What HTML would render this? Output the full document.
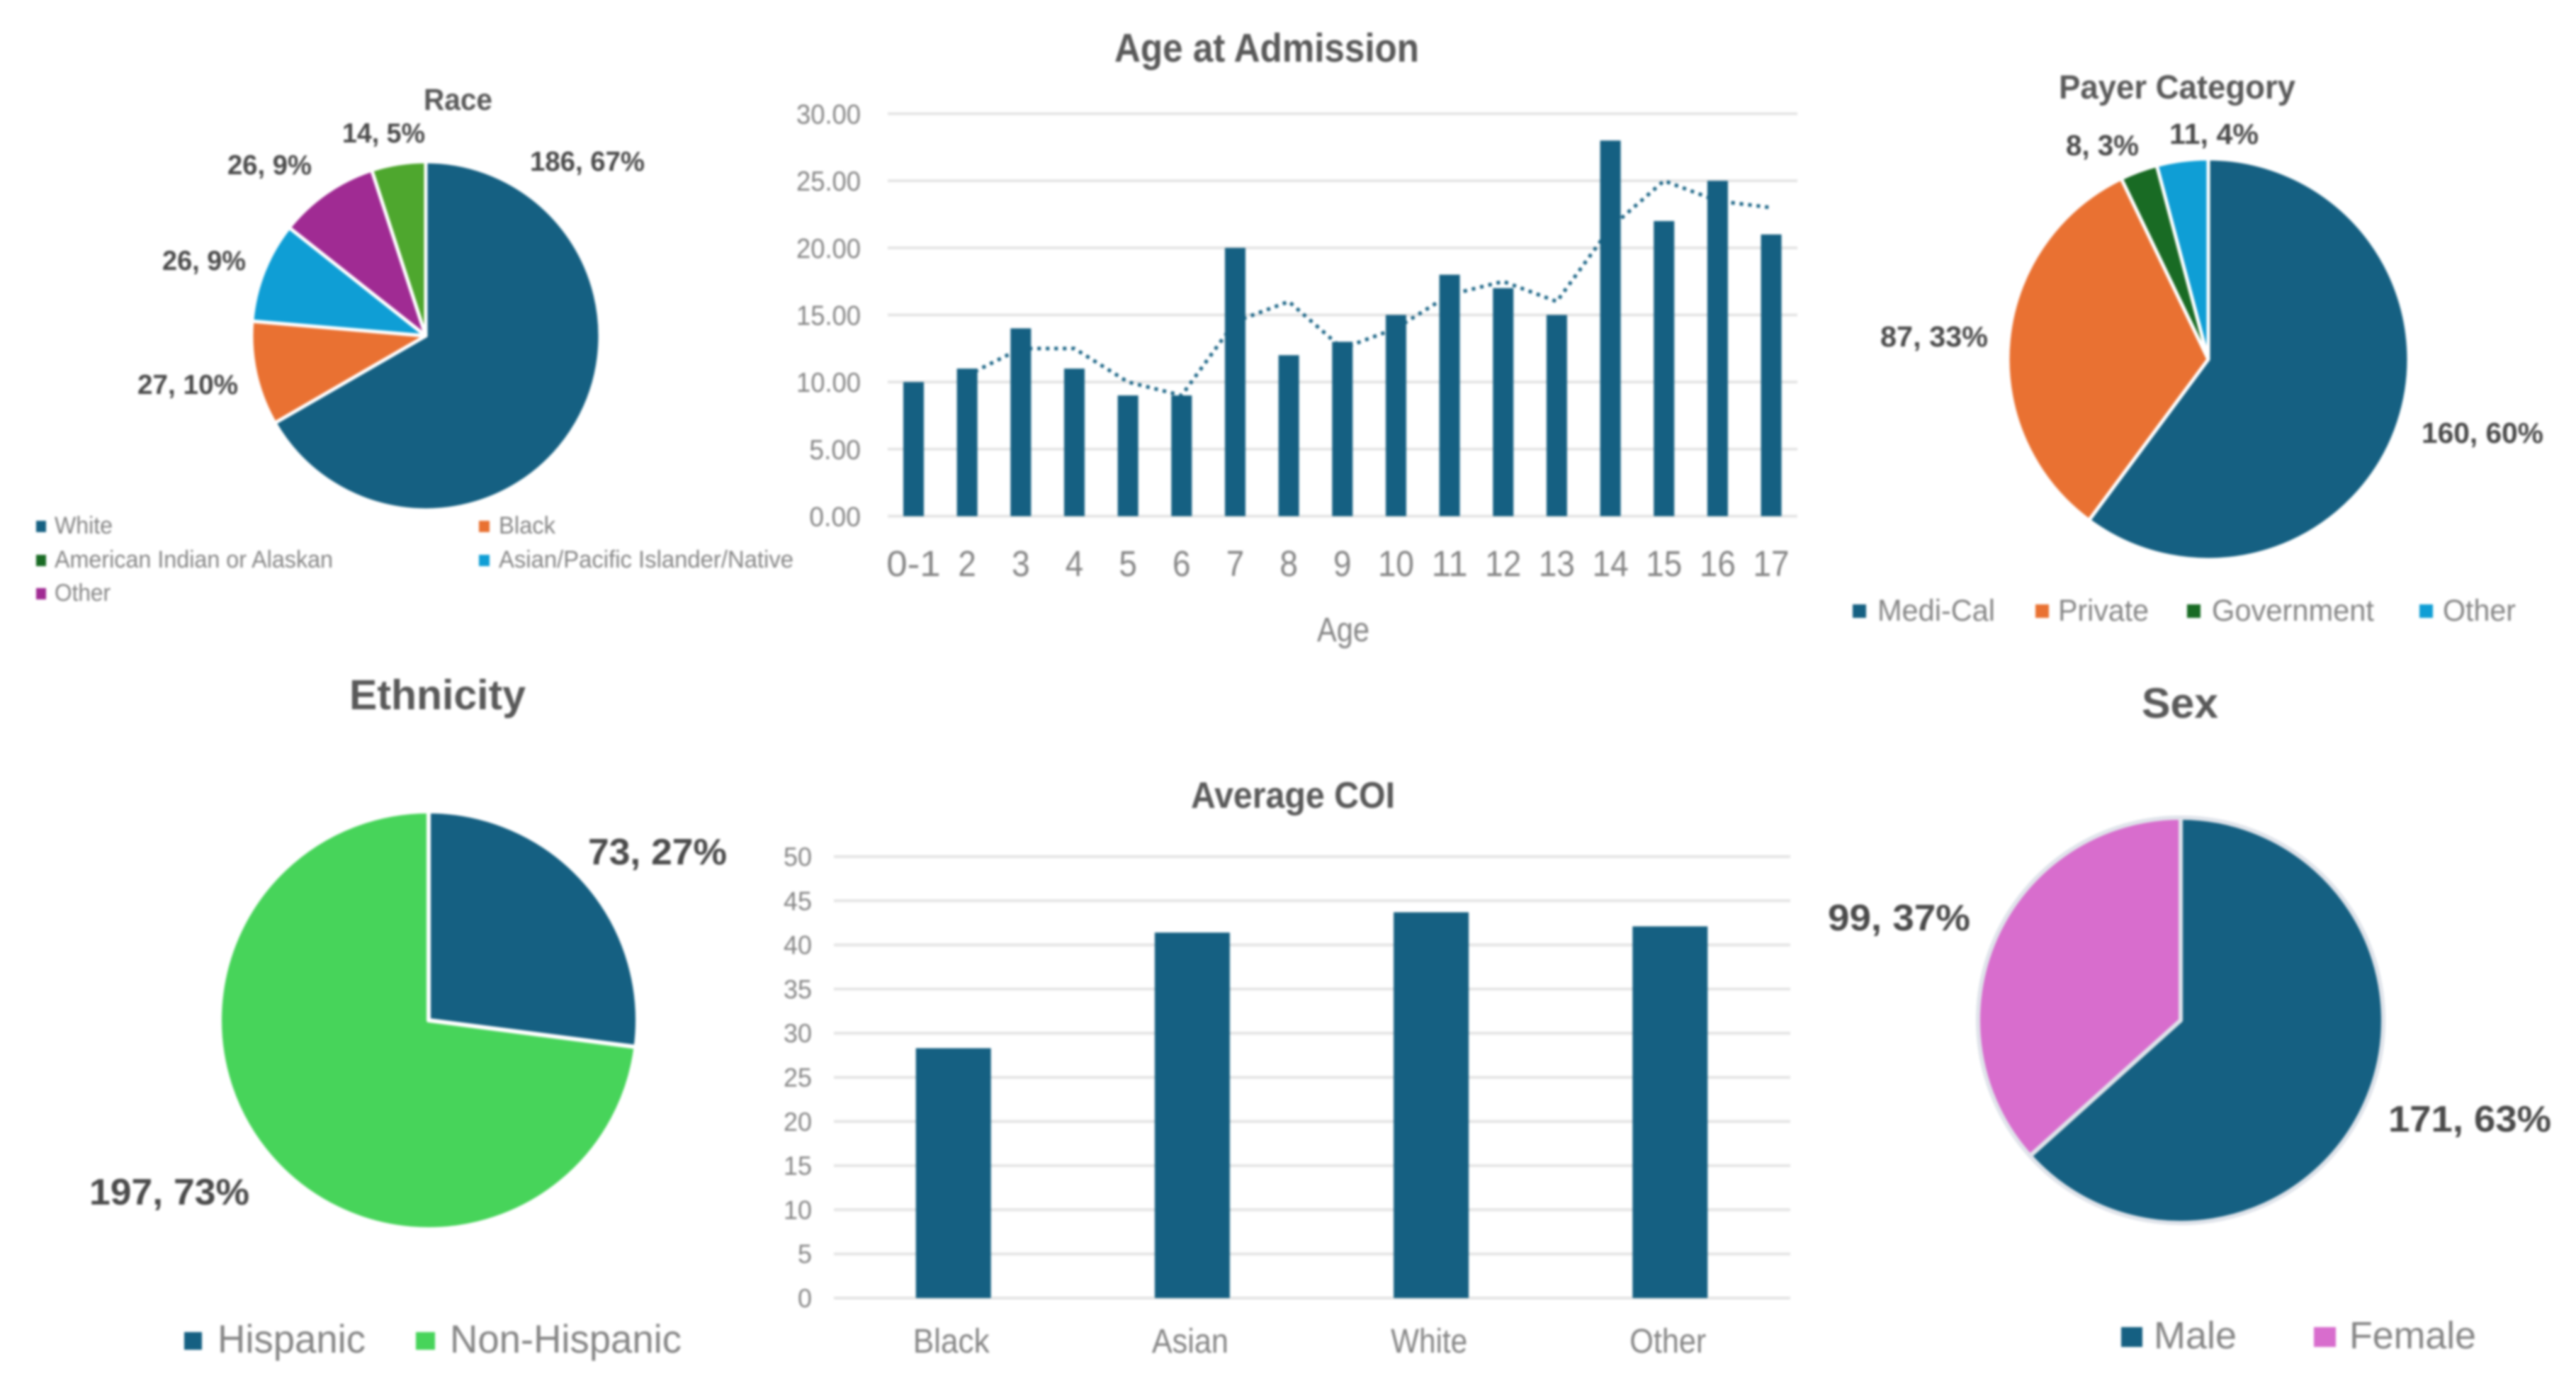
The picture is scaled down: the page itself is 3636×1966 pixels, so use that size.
<!DOCTYPE html>
<html lang="en">
<head>
<meta charset="utf-8">
<title>Patient demographics charts</title>
<style>
html,body{margin:0;padding:0;background:#fff;width:3636px;height:1966px;overflow:hidden}
svg{display:block;filter:blur(1.5px)}
text{font-family:"Liberation Sans",sans-serif}
</style>
</head>
<body>
<svg id="root" xmlns="http://www.w3.org/2000/svg" width="3636" height="1966" viewBox="0 0 3636 1966">
  <rect width="3636" height="1966" fill="#ffffff"/>
  <g id="race"></g>
  <g id="age"></g>
  <g id="payer"></g>
  <g id="ethnicity"></g>
  <g id="coi"></g>
  <g id="sex"></g>
</svg>
<script>
const raceCategories = ['White','Black','Asian/Pacific Islander/Native','Other','American Indian or Alaskan'];
const raceValues = [186,27,26,26,14];
const raceLabels = ['186, 67%','27, 10%','26, 9%','26, 9%','14, 5%'];

const payerCategories = ['Medi-Cal','Private','Government','Other'];
const payerValues = [160,87,8,11];
const payerLabels = ['160, 60%','87, 33%','8, 3%','11, 4%'];

const ethnicityCategories = ['Hispanic','Non-Hispanic'];
const ethnicityValues = [73,197];
const ethnicityLabels = ['73, 27%','197, 73%'];

const sexCategories = ['Male','Female'];
const sexValues = [171,99];
const sexLabels = ['171, 63%','99, 37%'];

const ageCategories = ['0-1','2','3','4','5','6','7','8','9','10','11','12','13','14','15','16','17'];
const ageValues = [10,11,14,11,9,9,20,12,13,15,18,17,15,28,22,25,21];
const ageTrendValues = [null,10.5,12.5,12.5,10,9,14.5,16,12.5,14,16.5,17.5,16,21.5,25,23.5,23];
const ageTicks = [0,5,10,15,20,25,30];
const ageTickLabels = ['0.00','5.00','10.00','15.00','20.00','25.00','30.00'];

const coiCategories = ['Black','Asian','White','Other'];
const coiValues = [28.3,41.4,43.7,42.1];
const coiTicks = [0,5,10,15,20,25,30,35,40,45,50];
const coiTickLabels = ['0','5','10','15','20','25','30','35','40','45','50'];

const NS = 'http://www.w3.org/2000/svg';
const BLUE = '#156082', ORANGE = '#e97132', DKGREEN = '#196b24', SKY = '#0f9ed5';
const PURPLE = '#a02b93', GREEN = '#4ea72e', LIME = '#47d45a', PINK = '#d86dcd';

function drawText(parent, name, str, x, y, size, fill, weight, anchor, width) {
  const t = document.createElementNS(NS, 'text');
  
  
  t.setAttribute('x', x);
  t.setAttribute('y', y);
  t.setAttribute('font-size', size);
  t.setAttribute('fill', fill);
  t.setAttribute('font-weight', weight);
  t.setAttribute('text-anchor', anchor);
  if (width) {
    t.setAttribute('textLength', width);
    t.setAttribute('lengthAdjust', 'spacingAndGlyphs');
  }
  t.textContent = str;
  parent.appendChild(t);
  return t;
}

function drawPie(parent, prefix, values, colors, cx, cy, r, edge, edgeWidth) {
  const total = values.reduce(function (a, b) { return a + b; }, 0);
  let acc = 0;
  values.forEach(function (v, i) {
    const a0 = -Math.PI / 2 + acc / total * 2 * Math.PI;
    acc += v;
    const a1 = -Math.PI / 2 + acc / total * 2 * Math.PI;
    const large = a1 - a0 > Math.PI ? 1 : 0;
    const d = 'M' + cx + ' ' + cy +
      'L' + (cx + r * Math.cos(a0)) + ' ' + (cy + r * Math.sin(a0)) +
      'A' + r + ' ' + r + ' 0 ' + large + ' 1 ' + (cx + r * Math.cos(a1)) + ' ' + (cy + r * Math.sin(a1)) + 'Z';
    const p = document.createElementNS(NS, 'path');
    
    
    p.setAttribute('d', d);
    p.setAttribute('fill', colors[i]);
    p.setAttribute('stroke', edge);
    p.setAttribute('stroke-width', edgeWidth);
    p.setAttribute('stroke-linejoin', 'round');
    parent.appendChild(p);
  });
}

function drawMarker(parent, name, x, y, w, h, fill) {
  const m = document.createElementNS(NS, 'rect');
  
  
  m.setAttribute('x', x);
  m.setAttribute('y', y);
  m.setAttribute('width', w);
  m.setAttribute('height', h);
  m.setAttribute('fill', fill);
  parent.appendChild(m);
}

function drawGrid(parent, name, x0, x1, y) {
  const l = document.createElementNS(NS, 'line');
  
  
  l.setAttribute('x1', x0);
  l.setAttribute('x2', x1);
  l.setAttribute('y1', y);
  l.setAttribute('y2', y);
  l.setAttribute('stroke', '#e4e4e4');
  l.setAttribute('stroke-width', 4);
  parent.appendChild(l);
}

function drawBar(parent, name, cx, w, yTop, yBase) {
  const b = document.createElementNS(NS, 'rect');
  
  
  b.setAttribute('x', cx - w / 2);
  b.setAttribute('y', yTop);
  b.setAttribute('width', w);
  b.setAttribute('height', yBase - yTop);
  b.setAttribute('fill', BLUE);
  parent.appendChild(b);
}

const TITLE = '#595959', LABEL = '#4a4a4a', AXIS = '#858585';
const gRace = document.getElementById('race');
const gAge = document.getElementById('age');
const gPayer = document.getElementById('payer');
const gEth = document.getElementById('ethnicity');
const gCoi = document.getElementById('coi');
const gSex = document.getElementById('sex');

/* Race */
drawPie(gRace, 'race', raceValues, [BLUE, ORANGE, SKY, PURPLE, GREEN], 601, 474, 246, '#ffffff', 5);
drawText(gRace, 'race-title', 'Race', 598, 155, 43, TITLE, 'bold', 'start', 97);
drawText(gRace, 'race-label-white', raceLabels[0], 748, 241, 39, LABEL, 'bold', 'start', 162);
drawText(gRace, 'race-label-black', raceLabels[1], 194, 556, 39, LABEL, 'bold', 'start', 142);
drawText(gRace, 'race-label-asian', raceLabels[2], 229, 381, 39, LABEL, 'bold', 'start', 118);
drawText(gRace, 'race-label-other', raceLabels[3], 321, 246, 39, LABEL, 'bold', 'start', 119);
drawText(gRace, 'race-label-native', raceLabels[4], 483, 201, 39, LABEL, 'bold', 'start', 117);
drawMarker(gRace, 'race-legend-marker-white', 51, 735, 14, 16, BLUE);
drawText(gRace, 'race-legend-white', 'White', 77, 753, 34, AXIS, 'normal', 'start', 82);
drawMarker(gRace, 'race-legend-marker-black', 676, 735, 15, 16, ORANGE);
drawText(gRace, 'race-legend-black', 'Black', 704, 753, 34, AXIS, 'normal', 'start', 80);
drawMarker(gRace, 'race-legend-marker-native', 51, 783, 14, 16, DKGREEN);
drawText(gRace, 'race-legend-native', 'American Indian or Alaskan', 77, 801, 34, AXIS, 'normal', 'start', 393);
drawMarker(gRace, 'race-legend-marker-asian', 676, 783, 15, 16, SKY);
drawText(gRace, 'race-legend-asian', 'Asian/Pacific Islander/Native', 704, 801, 34, AXIS, 'normal', 'start', 416);
drawMarker(gRace, 'race-legend-marker-other', 51, 830, 14, 16, PURPLE);
drawText(gRace, 'race-legend-other', 'Other', 77, 848, 34, AXIS, 'normal', 'start', 79);

/* Age */
const ageX = function (i) { return 1289.5 + i * 75.66; };
const ageY = function (v) { return 728.5 - v / 30 * 568; };
drawText(gAge, 'age-title', 'Age at Admission', 1573, 87, 57, TITLE, 'bold', 'start', 430);
ageTicks.forEach(function (v, i) {
  drawGrid(gAge, 'age-gridline-' + v, 1253, 2537, ageY(v));
  drawText(gAge, 'age-y-tick-' + v, ageTickLabels[i], 1215, ageY(v) + 14, 39, AXIS, 'normal', 'end', ageTickLabels[i].length * 18.2);
});
const trendPoints = [];
ageTrendValues.forEach(function (v, i) {
  if (v !== null) trendPoints.push(ageX(i) + ',' + ageY(v));
});
const trend = document.createElementNS(NS, 'polyline');


trend.setAttribute('points', trendPoints.join(' '));
trend.setAttribute('fill', 'none');
trend.setAttribute('stroke', BLUE);
trend.setAttribute('stroke-width', 5);
trend.setAttribute('stroke-dasharray', '5 7');
gAge.appendChild(trend);
ageValues.forEach(function (v, i) {
  drawBar(gAge, 'age-bar-' + ageCategories[i], ageX(i), 29, ageY(v), ageY(0));
  drawText(gAge, 'age-x-tick-' + ageCategories[i], ageCategories[i], ageX(i), 813, 51, AXIS, 'normal', 'middle', ageCategories[i].length * 25.5);
});
drawText(gAge, 'age-x-axis-title', 'Age', 1896, 905, 48, AXIS, 'normal', 'middle', 74);

/* Payer */
drawPie(gPayer, 'payer', payerValues, [BLUE, ORANGE, DKGREEN, SKY], 3117, 507, 283, '#ffffff', 5);
drawText(gPayer, 'payer-title', 'Payer Category', 2906, 139, 47, TITLE, 'bold', 'start', 334);
drawText(gPayer, 'payer-label-medical', payerLabels[0], 3418, 625, 41, LABEL, 'bold', 'start', 172);
drawText(gPayer, 'payer-label-private', payerLabels[1], 2654, 489, 41, LABEL, 'bold', 'start', 152);
drawText(gPayer, 'payer-label-government', payerLabels[2], 2916, 219, 41, LABEL, 'bold', 'start', 103);
drawText(gPayer, 'payer-label-other', payerLabels[3], 3062, 203, 41, LABEL, 'bold', 'start', 126);
drawMarker(gPayer, 'payer-legend-marker-medical', 2615, 853, 19, 19, BLUE);
drawText(gPayer, 'payer-legend-medical', payerCategories[0], 2650, 876, 43, AXIS, 'normal', 'start', 166);
drawMarker(gPayer, 'payer-legend-marker-private', 2873, 853, 19, 19, ORANGE);
drawText(gPayer, 'payer-legend-private', payerCategories[1], 2905, 876, 43, AXIS, 'normal', 'start', 128);
drawMarker(gPayer, 'payer-legend-marker-government', 3087, 853, 19, 19, DKGREEN);
drawText(gPayer, 'payer-legend-government', payerCategories[2], 3122, 876, 43, AXIS, 'normal', 'start', 229);
drawMarker(gPayer, 'payer-legend-marker-other', 3415, 853, 19, 19, SKY);
drawText(gPayer, 'payer-legend-other', payerCategories[3], 3448, 876, 43, AXIS, 'normal', 'start', 103);

/* Ethnicity */
drawPie(gEth, 'ethnicity', ethnicityValues, [BLUE, LIME], 605, 1440, 295, '#ffffff', 6);
drawText(gEth, 'ethnicity-title', 'Ethnicity', 493, 1001, 59, TITLE, 'bold', 'start', 249);
drawText(gEth, 'ethnicity-label-hispanic', ethnicityLabels[0], 830, 1220, 52, LABEL, 'bold', 'start', 196);
drawText(gEth, 'ethnicity-label-non-hispanic', ethnicityLabels[1], 126, 1700, 52, LABEL, 'bold', 'start', 226);
drawMarker(gEth, 'ethnicity-legend-marker-hispanic', 260, 1880, 25, 25, BLUE);
drawText(gEth, 'ethnicity-legend-hispanic', ethnicityCategories[0], 307, 1909, 56, AXIS, 'normal', 'start', 209);
drawMarker(gEth, 'ethnicity-legend-marker-non-hispanic', 587, 1880, 27, 25, LIME);
drawText(gEth, 'ethnicity-legend-non-hispanic', ethnicityCategories[1], 635, 1909, 56, AXIS, 'normal', 'start', 327);

/* COI */
const coiX = function (i) { return 1345.7 + i * 337.2; };
const coiY = function (v) { return 1832 - v / 50 * 623; };
drawText(gCoi, 'coi-title', 'Average COI', 1681, 1140, 52, TITLE, 'bold', 'start', 288);
coiTicks.forEach(function (v, i) {
  drawGrid(gCoi, 'coi-gridline-' + v, 1177, 2527, coiY(v));
  drawText(gCoi, 'coi-y-tick-' + v, coiTickLabels[i], 1146, coiY(v) + 13, 37, AXIS, 'normal', 'end', coiTickLabels[i].length * 20);
});
coiValues.forEach(function (v, i) {
  drawBar(gCoi, 'coi-bar-' + coiCategories[i], coiX(i), 106, coiY(v), coiY(0));
  drawText(gCoi, 'coi-x-tick-' + coiCategories[i], coiCategories[i], coiX(i) - 3, 1909, 48, AXIS, 'normal', 'middle', 108);
});

/* Sex */
drawPie(gSex, 'sex', sexValues, [BLUE, PINK], 3078, 1440, 286, '#dfe3ea', 6);
drawText(gSex, 'sex-title', 'Sex', 3023, 1013, 60, TITLE, 'bold', 'start', 108);
drawText(gSex, 'sex-label-male', sexLabels[0], 3371, 1597, 52, LABEL, 'bold', 'start', 230);
drawText(gSex, 'sex-label-female', sexLabels[1], 2580, 1313, 52, LABEL, 'bold', 'start', 201);
drawMarker(gSex, 'sex-legend-marker-male', 2994, 1873, 30, 28, BLUE);
drawText(gSex, 'sex-legend-male', sexCategories[0], 3040, 1903, 54, AXIS, 'normal', 'start', 117);
drawMarker(gSex, 'sex-legend-marker-female', 3266, 1873, 31, 28, PINK);
drawText(gSex, 'sex-legend-female', sexCategories[1], 3316, 1903, 54, AXIS, 'normal', 'start', 179);
</script>
</body>
</html>
